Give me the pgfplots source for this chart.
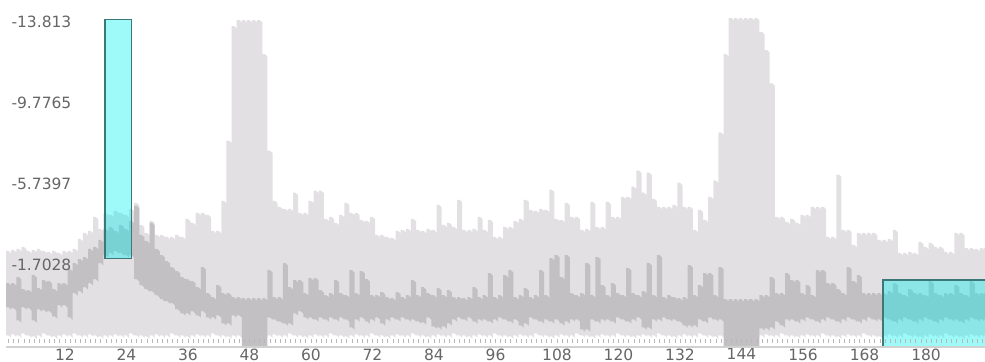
\documentclass[border=0pt]{standalone}
\usepackage{fontspec}
\setmainfont{DejaVu Sans}
\usepackage{pgfplots}
\pgfplotsset{compat=1.18}
\usepackage{pgfplotstable}
\usepgfplotslibrary{fillbetween}

\definecolor{lgray}{HTML}{E3E0E4}
\definecolor{dgray}{HTML}{C3C0C4}
\definecolor{cyanfill}{RGB}{0,240,240}
\definecolor{rectedge}{RGB}{60,120,120}

% x  light-top  dark-top  dark-bottom  light-bottom
\pgfplotstableread{
x lt dt db lb
0.5 2.4 0.8 -0.4 -1.8
1 2.4 0.8 -0.4 -1.8
2 2.45 0.8 -0.45 -1.75
3 2.5 1.1 -1.05 -1.8
4 2.6 0.5 -0.4 -1.7
5 2.4 0.45 -0.45 -1.8
6 2.45 1.2 -1.05 -1.85
7 2.5 0.55 -0.5 -1.8
8 2.4 0.95 -0.55 -1.7
9 2.35 0.9 -0.6 -1.8
10 2.4 0.5 -0.85 -1.85
11 2.3 0.8 -0.3 -1.8
12 2.4 0.8 -0.3 -1.75
13 2.4 1.5 -0.9 -1.8
14 2.5 1.8 0.3 -1.7
15 3.0 2.0 0.4 -1.8
16 3.3 2.1 0.6 -1.8
17 3.4 2.5 0.8 -1.75
18 4.1 2.6 1.0 -1.8
19 3.5 2.95 1.8 -1.85
20 4.3 3.5 2.2 -1.8
21 4.2 3.6 2.3 -1.8
22 4.4 3.4 2.4 -1.75
23 4.3 3.7 2.3 -1.8
24 4.2 3.5 2.2 -1.8
25 4.5 3.9 2.2 -1.7
26 4.8 4.65 1.0 -1.8
27 3.7 3.2 0.7 -1.8
28 3.3 2.9 0.5 -1.85
29 3.9 3.8 0.4 -1.8
30 3.2 2.5 0.2 -1.75
31 3.2 2.2 0.0 -1.8
32 3.1 1.9 -0.1 -1.8
33 3.1 1.6 -0.2 -1.7
34 3.2 1.4 -0.5 -1.8
35 3.1 1.1 -0.7 -1.8
36 4.0 1.0 -0.7 -1.85
37 3.8 0.9 -0.6 -1.8
38 4.3 0.6 -0.8 -1.75
39 4.3 1.6 -0.6 -1.8
40 4.2 0.3 -0.9 -1.8
41 3.4 0.1 -0.9 -1.7
42 3.4 0.7 -0.8 -1.8
43 4.9 0.3 -1.2 -1.8
44 7.9 0.3 -1.2 -1.85
45 13.6 0.1 -0.8 -1.8
46 13.9 0.1 -0.8 -1.8
47 13.9 0.05 -2.5 -1.8
48 13.9 0.05 -2.5 -1.8
49 13.9 0.05 -2.5 -1.8
50 13.9 0.05 -2.5 -1.8
51 12.2 0.05 -2.5 -1.8
52 7.4 1.45 -0.9 -1.8
53 4.9 0.1 -1.0 -1.75
54 4.6 0.1 -1.1 -1.8
55 4.5 1.8 -1.2 -1.8
56 4.5 0.6 -1.2 -1.7
57 5.3 0.95 -0.7 -1.8
58 4.3 0.95 -0.6 -1.8
59 4.3 0.3 -0.9 -1.85
60 4.9 1.05 -0.9 -1.8
61 5.4 1.05 -1.0 -1.75
62 5.4 0.45 -0.9 -1.8
63 4.0 0.2 -1.0 -1.8
64 4.1 0.3 -0.9 -1.7
65 3.8 0.95 -1.0 -1.8
66 4.2 0.3 -0.9 -1.8
67 4.8 0.2 -1.0 -1.85
68 4.3 1.45 -1.4 -1.8
69 4.3 0.3 -1.0 -1.75
70 3.95 1.4 -0.9 -1.8
71 3.9 1.0 -1.1 -1.8
72 4.1 0.2 -1.0 -1.7
73 3.2 0.2 -0.9 -1.8
74 3.2 0.35 -1.2 -1.8
75 3.1 0.1 -1.0 -1.85
76 3.05 0.05 -0.9 -1.8
77 3.4 0.35 -1.0 -1.75
78 3.45 0.1 -0.9 -1.8
79 3.5 0.2 -1.0 -1.8
80 4.0 0.95 -1.0 -1.7
81 3.45 0.2 -1.1 -1.8
82 3.4 0.6 -1.15 -1.8
83 3.5 0.3 -0.9 -1.85
84 3.45 0.2 -1.35 -1.8
85 4.7 0.55 -1.4 -1.75
86 3.7 0.2 -1.35 -1.8
87 3.8 0.45 -1.2 -1.8
88 3.6 0.1 -1.0 -1.7
89 4.95 0.1 -0.9 -1.8
90 3.45 0.05 -1.0 -1.8
91 3.45 0.1 -0.9 -1.85
92 3.5 0.6 -1.1 -1.8
93 4.1 0.1 -1.0 -1.75
94 3.45 0.2 -1.0 -1.8
95 3.95 1.3 -1.1 -1.8
96 3.1 0.1 -1.0 -1.7
97 3.1 0.2 -0.9 -1.8
98 3.6 1.2 -1.0 -1.8
99 3.6 1.45 -1.1 -1.85
100 3.9 0.1 -1.0 -1.8
101 4.0 0.2 -1.3 -1.75
102 4.95 0.55 -1.2 -1.8
103 4.45 0.1 -0.9 -1.8
104 4.4 0.2 -1.0 -1.7
105 4.5 1.45 -1.1 -1.8
106 4.45 0.2 -1.0 -1.8
107 5.45 2.05 -1.1 -1.85
108 4.0 2.2 -1.0 -1.8
109 3.95 1.1 -1.2 -1.75
110 4.8 2.2 -1.1 -1.8
111 4.1 0.3 -1.0 -1.8
112 4.1 0.2 -1.0 -1.7
113 3.45 0.3 -1.5 -1.8
114 3.5 1.8 -1.5 -1.8
115 4.85 0.2 -1.0 -1.85
116 3.6 2.1 -1.1 -1.8
117 3.6 0.7 -1.0 -1.75
118 4.85 0.2 -1.0 -1.8
119 4.1 0.8 -1.1 -1.8
120 4.1 0.3 -0.9 -1.7
121 5.1 0.2 -1.0 -1.8
122 5.1 1.55 -1.1 -1.8
123 5.6 0.3 -1.0 -1.85
124 6.4 0.2 -0.9 -1.8
125 5.3 0.4 -1.4 -1.75
126 6.3 1.8 -1.4 -1.8
127 5.0 0.2 -1.0 -1.8
128 4.6 2.2 -1.0 -1.7
129 4.6 0.1 -0.9 -1.8
130 4.6 0.2 -1.0 -1.8
131 4.7 0.1 -1.0 -1.85
132 5.8 0.05 -1.1 -1.8
133 4.6 0.1 -1.3 -1.75
134 4.6 1.7 -1.3 -1.8
135 3.45 0.2 -1.3 -1.8
136 4.45 0.7 -1.0 -1.7
137 3.95 1.3 -1.1 -1.8
138 5.1 1.3 -0.9 -1.8
139 5.9 0.2 -1.0 -1.85
140 8.3 1.6 -1.0 -1.8
141 12.2 0.0 -2.5 -1.8
142 14.0 0.0 -2.5 -1.8
143 14.0 0.0 -2.5 -1.8
144 14.0 0.0 -2.5 -1.8
145 14.0 0.0 -2.5 -1.8
146 14.0 0.0 -2.5 -1.8
147 14.0 0.0 -2.5 -1.8
148 13.3 0.2 -1.45 -1.8
149 12.4 0.2 -1.45 -1.75
150 10.75 1.1 -1.4 -1.8
151 4.1 0.3 -1.1 -1.8
152 4.1 0.3 -1.3 -1.7
153 3.85 1.3 -1.0 -1.8
154 4.0 0.95 -1.0 -1.8
155 3.8 0.95 -1.1 -1.85
156 4.2 0.3 -1.0 -1.8
157 4.2 0.7 -0.9 -1.75
158 4.6 0.2 -1.0 -1.8
159 4.6 1.45 -1.1 -1.8
160 4.6 1.45 -1.0 -1.7
161 3.1 0.8 -0.9 -1.8
162 3.1 0.8 -1.0 -1.8
163 6.2 0.5 -1.1 -1.85
164 3.45 0.3 -1.0 -1.8
165 3.45 1.6 -0.9 -1.75
166 2.7 0.9 -1.0 -1.8
167 3.3 1.2 -1.1 -1.8
168 3.3 0.3 -1.0 -1.7
169 3.3 0.3 -0.9 -1.8
170 3.3 0.3 -1.0 -1.8
171 2.95 0.3 -1.0 -1.85
172 2.95 0.3 -0.9 -1.8
173 3.0 0.4 -1.0 -1.75
174 3.45 0.8 -1.1 -1.8
175 2.3 0.3 -1.0 -1.8
176 2.3 0.2 -0.9 -1.7
177 2.35 0.5 -1.0 -1.8
178 2.3 0.3 -1.1 -1.8
179 2.85 0.3 -1.0 -1.85
180 2.6 0.2 -0.9 -1.8
181 2.8 0.9 -1.0 -1.75
182 2.6 0.3 -1.1 -1.8
183 2.6 0.2 -1.0 -1.8
184 2.35 0.3 -0.9 -1.7
185 2.35 0.3 -1.0 -1.8
186 3.3 0.7 -1.0 -1.8
187 3.3 0.3 -1.1 -1.85
188 2.55 0.2 -1.0 -1.8
189 2.55 0.9 -0.9 -1.75
190 2.5 0.3 -1.0 -1.8
191 2.55 0.3 -1.0 -1.8
191.5 2.55 0.3 -1.0 -1.8
}\sig

\begin{document}
\begin{tikzpicture}
\begin{axis}[
    scale only axis,
    width=979pt, height=333pt,
    xmin=0.5, xmax=191.5,
    ymin=-2.38, ymax=14.2,
    axis on top,
    axis x line*=bottom, axis y line*=left,
    axis line style={-},
    x axis line style={draw=black!18, line width=1.5pt},
    y axis line style={draw=none},
    xtick={12,24,...,180},
    minor xtick={1,2,...,191},
    ytick={1.7028,5.7397,9.7765,13.813},
    yticklabels={-1.7028,-5.7397,-9.7765,-13.813},
    tick align=inside,
    major tick length=0pt,
    minor tick length=3.5pt,
    minor tick style={draw=black!28, line width=0.8pt, yshift=4pt},
    /pgf/number format/assume math mode=true,
    every tick label/.append style={font=\fontsize{15.5}{17}\selectfont, text=black!60},
    yticklabel style={anchor=west, xshift=2pt},
    xticklabel style={yshift=2pt},
  ]
  \addplot[draw=none, no marks, const plot mark mid, name path=lt] table[x=x, y=lt] {\sig};
  \addplot[draw=none, no marks, const plot mark mid, name path=lb] table[x=x, y=lb] {\sig};
  \addplot[draw=none, no marks, const plot mark mid, name path=dt] table[x=x, y=dt] {\sig};
  \addplot[draw=none, no marks, const plot mark mid, name path=db] table[x=x, y=db] {\sig};
  \addplot[fill=lgray, draw=none] fill between[of=lt and lb];
  \addplot[fill=dgray, draw=none] fill between[of=dt and db];

  % highlighted regions
  \addplot[fill=cyanfill, fill opacity=0.38, draw=rectedge, line width=1.2pt]
    coordinates {(19.8,2.04) (25.05,2.04) (25.05,13.92) (19.8,13.92)} -- cycle;
  \addplot[fill=cyanfill, fill opacity=0.38, draw=rectedge, line width=1.2pt]
    coordinates {(171.6,-2.35) (194,-2.35) (194,0.955) (171.6,0.955)} -- cycle;
\end{axis}
\pgfresetboundingbox
\path ([xshift=-6pt,yshift=-15pt]current axis.south west) rectangle ([yshift=14pt]current axis.north east);
\end{tikzpicture}
\end{document}
